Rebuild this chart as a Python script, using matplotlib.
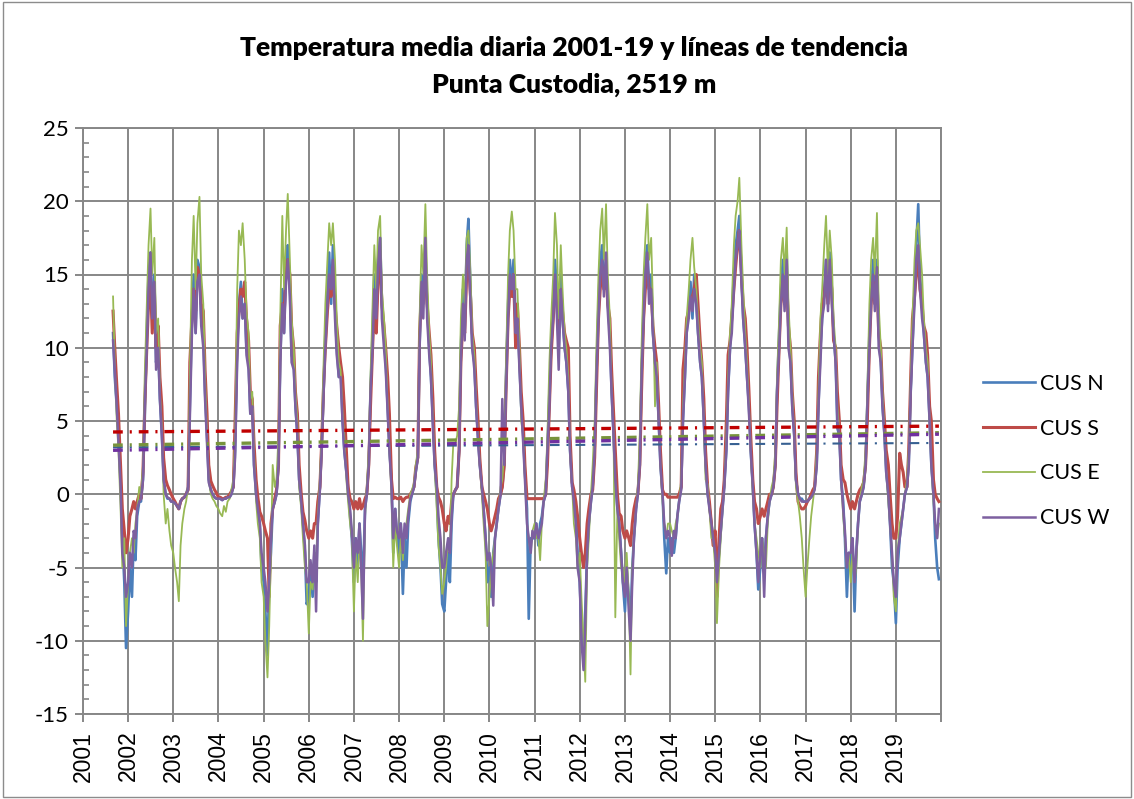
import matplotlib
matplotlib.use('Agg')
import matplotlib.pyplot as plt
import matplotlib.dates as mdates
from matplotlib.patches import Rectangle
import pandas as pd

plt.rcParams['font.family'] = ['Lato', 'DejaVu Sans']
plt.rcParams['lines.scale_dashes'] = False
plt.rcParams['axes.unicode_minus'] = False

# semi-monthly readings (1st and 15th of each month), Sep 2001 - Dec 2019
dates = pd.date_range('2001-09-01', '2019-12-31', freq='SMS')

series_names = ['CUS N', 'CUS S', 'CUS E', 'CUS W']

cus_n = [
    11, 8, 6, 4, 1, -3, -6, -10.5,  # 2001
    -8, -5, -7, -3, -4.5, -1.5, -0.5, -0.5, 1, 5, 11, 15, 16.5, 12, 15, 9, 10, 6.5, 4, 1, 0, -0.3, -0.3, -0.5,
    -0.5, -0.6, -0.8, -1, -0.5, -0.3, -0.2, 0, 0.5, 6, 12, 15, 11, 16, 15.5, 12, 11, 7, 4, 1, 0.3, 0, -0.2, -0.3,
    -0.3, -0.3, -0.4, -0.3, -0.3, -0.2, -0.2, 0, 0.5, 3, 10, 13, 14.5, 12, 13, 10, 9, 5.5, 6, 2, 0, -1, -2, -5,
    -6, -8, -11, -6, -4, -1, -0.5, 0, 2, 9, 14, 11, 16, 17, 14, 9.5, 9, 6, 4, 1, -0.5, -2, -4, -7.5,
    -7, -5, -7, -4, -6, -2, 0.5, 3, 7, 11, 14, 16.5, 13, 17, 13, 10, 8, 9, 5, 3, 1.5, 0.5, -1.5, -3,
    -6, -3, -5, -2, -4, -6, -1, 0, 2, 7, 11, 15, 12, 16, 17.5, 13, 11, 9, 6, 3, 1, -4, -1, -3,
    -4, -2, -6.8, -3, -5, -2, -0.5, 0, 0.5, 1.5, 2.5, 10, 15, 13, 16.5, 13, 10, 8, 5, 2, 0, -3, -5, -7.5,
    -8, -6, -4, -6, -2, 0, 0.3, 0.5, 3, 10, 14, 11, 17, 18.8, 14, 10, 9, 6, 4, 2, 0.5, -1, -3, -6,
    -5, -7, -4, -3, -2, -1, 0, 0.5, 2, 8, 13, 16, 14, 16, 12, 12.5, 9, 6, 4, 1.5, -1, -8.5, -3, -3,
    -3, -2, -3.5, -2, -1.5, -0.5, 0, 3, 7, 10, 13, 16, 14, 10, 15, 12, 10, 9, 7, 3, 0.5, 0, -1, -4,
    -6, -9, -11, -8, -4, -2, -0.5, 0.5, 3, 8, 13, 16, 17, 14, 16, 13, 11, 7, 4, 1, -1, -2, -4, -6,
    -8, -5, -7, -9, -5, -3, -1, 0, 2, 8, 13, 16, 17, 14, 15, 11, 9, 8, 5, 2, 0, -3, -5.4, -3,
    -4, -3, -4, -3, -1.5, -0.5, 0.5, 5, 8, 11, 13, 14.5, 12, 15, 13, 11, 9, 8, 5, 2, 0, -0.8, -2, -3,
    -4, -6, -4, -2.5, -1, 0.5, 3, 7, 10, 12, 15, 17, 18, 19, 15, 12, 10, 8, 6, 3, 0.5, -2, -4, -6.5,
    -5, -3, -5, -3, -1.5, -0.5, 0, 0.5, 2, 7, 11, 14, 16, 13, 16.5, 11, 9, 6, 4, 1, 0, -0.3, -0.3, -0.5,
    -0.5, -0.5, -0.3, -0.2, 0, 0.5, 2, 6, 10, 12, 14, 16, 13, 16.5, 14, 11, 9, 4.5, 4, 1, -0.5, -3, -7, -4,
    -5, -3, -8, -4, -2, -0.5, 0, 0.5, 2, 6, 11, 14, 16, 13, 16, 11, 9, 6, 4, 1.5, 0, -2, -5, -6,
    -8.8, -5, -3, -2, -1, 0, 0.5, 2, 7, 10, 14, 17, 19.8, 15, 13, 11, 9, 8, 5, 2, 0, -3, -5, -5.8,
]

cus_s = [
    12.5, 10, 7.5, 5.5, 2, -1, -2.5, -4,  # 2001
    -3, -1.5, -1, -0.5, -1, -0.5, 0, -0.3, 1.5, 6, 10, 13, 14.5, 11, 14, 10, 11.5, 8, 6, 2.5, 1, 0.6, 0.3, 0,
    -0.3, -0.5, -0.8, -1, -0.5, -0.3, -0.2, 0, 0.3, 9, 12, 14, 12.5, 15.5, 15, 13, 12.5, 8.5, 5.5, 2, 0.9, 0.6, 0.3, 0.1,
    -0.2, -0.2, -0.3, -0.3, -0.2, -0.2, 0, 0.2, 0.5, 5, 11, 12.5, 14, 13.5, 14.5, 12, 10.5, 7, 6.5, 3.5, 1, -0.2, -1.2, -1.5,
    -2, -2.5, -3, -7, -2, -1, -0.3, 0.3, 2, 11.5, 13, 12, 15.5, 16, 15, 11.5, 10, 7, 5.5, 2, 0, -1.2, -1.8, -2.5,
    -3, -2.5, -3, -2, -2, -0.5, 0.5, 3.5, 7.5, 10, 12.5, 14, 13.5, 15.5, 13, 11.5, 10, 9, 8, 6, 3, 0.5, -0.3, -0.5,
    -1, -0.5, -1, -0.3, -1, -0.8, -0.3, 0, 2, 6, 10, 13, 11, 14.5, 16, 13, 11.5, 10, 8, 5.5, 1, -0.3, -0.2, -0.3,
    -0.3, -0.2, -0.5, -0.3, -0.2, -0.2, 0, 0.2, 0.5, 1.8, 2.5, 11, 14, 13.5, 15, 13, 11, 9.5, 6.5, 3, 0.5, -0.2, -0.5, -1,
    -2, -2.5, -1.5, -2, -0.5, 0, 0.3, 0.5, 3, 9, 12, 11, 15, 16, 13.5, 11, 10, 7.5, 5, 2.5, 0.5, 0, -0.5, -1,
    -2, -2.5, -2, -1.5, -1, -0.3, 0, 0.5, 2, 7, 12, 14, 13.5, 15, 10, 13, 10, 7, 5, 2, -0.3, -0.3, -0.3, -0.3,
    -0.3, -0.3, -0.3, -0.3, -0.3, -0.3, 0, 2, 6, 9.5, 12, 14, 13.5, 11, 14, 12.5, 11, 10.5, 10, 4, 0.8, 0.3, -0.5, -1.5,
    -3, -4, -5, -4, -2, -1, 0, 0.3, 2.5, 7, 12, 14, 15.5, 14, 15, 13, 12, 8.5, 5.5, 3, 0, -1.3, -1.5, -2.5,
    -3, -2.5, -3, -3.5, -2, -1, -0.3, 0, 2, 7, 12, 14, 15.5, 14, 14, 11.5, 10, 9, 6, 3, 0.3, 0, 0, -0.2,
    -0.2, -0.2, -0.2, -0.2, -0.2, 0, 0.5, 8.5, 10, 12, 12.5, 13, 13.5, 14, 15, 13, 10.5, 9, 6.5, 3, 0.5, -0.5, -2, -3.5,
    -2.5, -7, -3, -1, -0.5, 1, 5, 9.5, 10.5, 12, 14, 15.5, 17, 18, 15, 13, 12, 10, 7, 4, 1, -0.5, -1, -2,
    -1.5, -1, -1.5, -1, -0.5, 0, 0, 0.5, 2, 6, 10, 13, 14.5, 13, 15, 11.5, 10, 7, 5, 1.5, -0.5, -0.8, -1, -1,
    -0.8, -0.5, -0.3, 0, 0.3, 0.5, 3, 8, 11, 13, 13.5, 15, 13, 15.5, 14, 10.5, 10, 7, 5, 2, 1, 0.8, 0, -0.5,
    -1, -0.5, -1, -0.5, 0, 0.3, 0.5, 0.8, 2, 5, 10, 13, 14.5, 13, 15, 11, 10, 7, 5, 3, 2, 0, -2, -3,
    -3, -1.5, 2.8, 2, 1.5, 0.5, 0.5, 3, 8, 12, 13.5, 15, 16, 14, 13, 11.5, 11, 9.5, 6, 5, 1, 0, -0.3, -0.5,
]

cus_e = [
    13.5, 9, 5, 3, -1, -5, -3, -9,  # 2001
    -6, -4, -3, -4, -2, -1, 0.5, 0, 2, 8, 13, 17, 19.5, 15, 17.5, 11, 12, 7, 4.5, 0, -2, -1, -2.5, -3.5,
    -4, -5, -6, -7.3, -3.5, -2, -1, -0.5, 0.5, 8, 16, 19, 14, 18.5, 20.3, 15, 13, 8, 4, 1, 0, -0.3, -0.5, -0.8,
    -1, -1.3, -1.5, -0.8, -1.2, -0.5, -0.3, 0.3, 1, 4, 14, 18, 17, 18.5, 16, 12.5, 11, 6.5, 7, 3, -0.5, -2, -3, -6,
    -7, -10, -12.5, -9, -4, 2, 0.5, 1, 4, 12, 19, 14, 18, 20.5, 16, 12, 10, 7, 5, 0.5, -1, -3, -5, -6,
    -9.5, -6, -6.5, -4, -5, -1.5, 1, 4, 9, 13, 16, 18.5, 17, 18.5, 16, 12, 9, 8.5, 5.5, 4, 1, -0.5, -2, -3,
    -8, -4, -6, -3, -5, -10, -1.5, 0.5, 3, 8, 13, 17, 14, 18, 19, 14, 12, 10, 6, 3, 0, -5, -2, -3.5,
    -5, -3, -4.5, -2.5, -2, -1, 0, 0.3, 0.8, 2, 3, 12, 17, 15, 19.8, 15, 11, 9, 5, 2, -1, -3.5, -5, -6.8,
    -6, -5, -3, -4, 1, 3.5, 3.5, 4, 6, 12, 15, 13, 17.5, 18, 15, 11, 9.5, 6.5, 4, 2, 0, -2, -4, -9,
    -7, -5, -4, -3, -2, -1, 0.5, 1, 3, 9, 15, 18, 19.3, 18, 14, 14, 10, 5, 4, 1, -2, -3, -4, -2.5,
    -2, -3, -3, -4.5, -2, -0.5, 1, 4, 9, 12, 15, 19.2, 17, 12, 17, 14, 11, 10, 8, 3, 0.5, -2, -3, -5,
    -4, -7, -10, -12.8, -5, -3, 0, 2, 5, 10, 15, 18, 19.5, 16, 19.8, 15, 12, 7, 4, -8.4, -1, -3, -5, -5,
    -6, -4, -7, -12.3, -5, -3, -1, 0.5, 4, 10, 15, 17.5, 19.8, 16, 17.5, 13, 6, 9, 5, 2, -0.5, -2, -3, -2,
    -2, -2.5, -3, -2, -1.5, -0.5, 1, 6, 9, 12, 14, 16, 17.5, 15.5, 14, 12, 10, 9, 5, 1, 0.7, -1, -3, -3,
    -5, -8.8, -5, -3, -1, 0.5, 4, 8, 11, 13, 17, 19, 20, 21.6, 17, 14, 11, 9, 6, 3, 0, -2, -3, -4,
    -5, -3, -4, -5, -2, -0.5, 0.5, 1, 3, 8, 12, 16, 17.5, 15, 18.2, 13, 10, 7, 4, 0.5, -0.5, -1.5, -3, -5,
    -7, -5, -3, -1.5, -0.5, 0.5, 3, 7, 12, 14, 17, 19, 15, 18, 16, 12, 10, 6, 4, 1, -1.5, -3, -5, -4,
    -6, -4, -6, -5, -2, -0.5, 0.5, 1, 3, 7, 13, 16, 17.5, 15, 19.2, 13, 10, 7, 4, 1.5, -0.5, -2, -4, -7,
    -8, -4, -2, -1.5, -1, 0, 1, 3, 8, 12, 16, 18, 18.5, 17, 15, 12, 10, 9, 5, 2, -0.5, -2, -3, -2,
]

cus_w = [
    10.5, 8.5, 6, 3.5, 0.5, -4, -5, -7,  # 2001
    -6, -4, -5, -2.5, -3, -1, -0.5, -0.3, 1, 6, 10, 14, 16.5, 12, 14.5, 8.5, 10, 6.5, 4, 1, 0, -0.2, -0.3, -0.5,
    -0.5, -0.6, -0.8, -1, -0.5, -0.3, -0.2, 0, 0.3, 5, 11, 14, 11, 14.5, 15, 11.5, 10, 6.5, 3.5, 0.8, 0.3, 0, -0.2, -0.3,
    -0.3, -0.3, -0.4, -0.3, -0.3, -0.2, -0.2, 0, 0.5, 2.5, 9, 12, 13.5, 12, 13, 9.5, 8.5, 5.5, 6, 2, 0, -1, -2, -4,
    -5, -6, -8, -6, -3, -1, -0.5, 0, 2, 9, 13, 11, 14.5, 16, 13.5, 9, 8.5, 6, 4, 1, -0.5, -2, -3.5, -6,
    -6, -4.5, -6, -3.5, -8, -2, 0.3, 3, 7, 10, 13, 15, 14, 16, 12, 9.5, 8, 8, 5, 3, 1.5, 0, -1, -2.5,
    -5, -3, -4, -2, -5, -8.5, -1, 0, 2, 7, 10, 14, 12, 15.5, 17.5, 12, 10, 8.5, 5.5, 3, 0.5, -3, -1, -2.5,
    -3, -2, -4, -2, -3, -1.5, -0.3, 0, 0.5, 1.5, 2.5, 10, 14.5, 12, 17.5, 12, 9.5, 8, 4.5, 2, 0.5, -1.5, -3, -5,
    -5, -4, -3, -4, -1.5, 0, 0.3, 0.5, 3, 9, 13, 10.5, 16, 17, 13, 10, 8.5, 6, 3.5, 2, 0.5, -1, -3, -4.5,
    -4, -5, -7.6, -3, -2, -1, 0, 6.5, 2, 7, 12, 15, 14, 15, 11, 12, 8.5, 6, 3.5, 1, -2, -3, -4, -2.5,
    -3, -2, -3, -2.5, -2, -0.5, 0, 3, 6, 10, 12, 15, 12, 8.5, 14, 12, 10, 9, 7, 3, 0.5, -0.5, -2, -5,
    -6, -10, -12, -9, -4, -2, -0.5, 0.5, 3, 8, 12, 15, 16, 13.5, 16.5, 12.5, 10, 7, 4, 1, -1, -2, -4, -6,
    -7, -5, -8, -10, -6, -3, -1, 0, 2, 8, 12, 15, 16.5, 13, 14, 11, 9, 8, 5, 2, 0, -2, -3, -2.5,
    -3, -4.2, -2.5, -3, -1.5, -0.5, 0.3, 5, 8, 11, 12, 13.5, 12.5, 14, 13, 11, 9, 8, 5, 2, 0, -1, -2, -3,
    -4, -6, -4, -2.5, -1, 0.5, 3, 7, 10, 11, 14, 16, 17, 18, 14.5, 12, 10, 8, 5.5, 3, 0.5, -2, -4, -6,
    -4, -3, -7, -3, -1.5, -0.5, 0, 0.5, 2, 7, 10, 13, 15, 12.5, 16, 10, 9, 6, 4, 1, 0, -0.3, -0.5, -0.5,
    -0.5, -0.5, -0.3, -0.2, 0, 0.3, 2, 6, 9, 12, 13, 16, 12.5, 16, 13, 11, 9, 5, 4, 1, -1, -2.5, -5, -4,
    -4, -3, -6, -4, -2, -0.5, 0, 0.5, 2, 6, 10, 13, 15, 12.5, 15.5, 10, 9, 6, 4, 1.5, 0, -2, -4, -6,
    -7, -4, -3, -2, -1, 0, 0.5, 2, 7, 10, 13, 16, 17, 14, 12, 11, 9, 8, 5, 2, 0, -2, -3, -1,
]

# linear trend lines, values read at the first and last date
trend_start = [3.2, 4.25, 3.35, 3.0]
trend_end = [3.5, 4.65, 4.2, 4.1]

year_ticks = list(range(2001, 2021))
year_labels = [str(y) for y in range(2001, 2020)] + ['']

line_colors = ['#4A7EBB', '#BE4B48', '#98B954', '#7D60A0']
line_widths = [1.9, 2.2, 1.3, 1.8]
trend_colors = ['#376092', '#C00000', '#77933C', '#7030A0']
trend_widths = [1.5, 2.4, 2.4, 2.4]

W, H = 1134, 799
fig = plt.figure(figsize=(W / 100, H / 100), dpi=100)
fig.patches.append(Rectangle((0.003, 0.003), 0.994, 0.994, transform=fig.transFigure,
                             fill=False, edgecolor='#8c8c8c', lw=1.0))
ax = fig.add_axes([83 / W, 1 - 714 / H, (941 - 83) / W, (714 - 128) / H])

all_series = [cus_n, cus_s, cus_e, cus_w]
handles = []
for vals, name, c, lw in zip(all_series, series_names, line_colors, line_widths):
    h, = ax.plot(dates, vals, color=c, lw=lw, label=name, zorder=3)
    handles.append(h)

for s, e, c, lw in zip(trend_start, trend_end, trend_colors, trend_widths):
    ax.plot([dates[0], dates[-1]], [s, e], color=c, lw=lw, zorder=4,
            dashes=(7, 5, 1.5, 5))

ax.set_ylim(-15, 25)
ax.set_yticks(range(-15, 26, 5))
ax.set_yticks(range(-15, 26, 1), minor=True)
ax.set_xlim(pd.Timestamp('2001-01-01'), pd.Timestamp('2020-01-01'))
ax.set_xticks([pd.Timestamp(f'{y}-01-01') for y in year_ticks])
ax.set_xticklabels(year_labels, rotation=90, fontfamily='Liberation Sans', fontsize=16.5)

grid_c = '#878787'
ax.grid(True, which='major', color=grid_c, lw=1.4)
ax.set_axisbelow(True)
for sp in ax.spines.values():
    sp.set_color(grid_c)
    sp.set_linewidth(1.4)
ax.tick_params(axis='y', which='major', direction='out', length=6, width=1.4, color=grid_c,
               labelsize=16, pad=4)
ax.tick_params(axis='y', which='minor', direction='in', length=4.5, width=1.2, color=grid_c)
ax.tick_params(axis='x', which='major', direction='out', length=6, width=1.4, color=grid_c, pad=6)

fig.text(574 / W, 1 - 56 / H, 'Temperatura media diaria 2001-19 y líneas de tendencia',
         ha='center', va='baseline', fontsize=19, fontweight='heavy')
fig.text(574 / W, 1 - 93 / H, 'Punta Custodia, 2519 m',
         ha='center', va='baseline', fontsize=19, fontweight='heavy')

fig.legend(handles=handles, loc='center left', bbox_to_anchor=(983 / W, 1 - 451 / H),
           frameon=False, fontsize=15.5, handlelength=2.4, handletextpad=0.25,
           labelspacing=1.15, borderpad=0, borderaxespad=0)

fig.savefig('out.png', dpi=100)
